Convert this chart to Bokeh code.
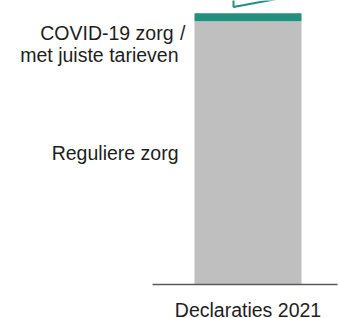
from bokeh.plotting import figure
from bokeh.models import Range1d
from bokeh.core.properties import value
from bokeh.embed import file_html
from bokeh.resources import INLINE

# Data (share of declarations, %)
category = "Declaraties 2021"
regular = [97.05]   # Reguliere zorg
covid = [2.95]      # COVID-19 zorg / met juiste tarieven
label_regular = "Reguliere zorg"
label_covid_1 = "COVID-19 zorg"
label_covid_2 = "met juiste tarieven"

TEAL = "#22907c"
GRAY = "#bfbfbf"
TXT = "#1e1e1e"
FONT = value("Liberation Sans")
FS = "19.5px"

W, H = 338, 318
px = 100 / 271.3          # data units per pixel (vertical)
ux = 1 / 107.0            # data units per pixel (horizontal)
bar_w = 1.0

p = figure(width=W, height=H, output_backend="svg", toolbar_location=None,
           x_range=Range1d(-247.5 * ux, (W - 247.5) * ux),
           y_range=Range1d(-(H - 284) * px, 284 * px),
           min_border=0, outline_line_color=None)
p.styles = {"position": "absolute", "left": "0px", "top": "0px"}
p.axis.visible = False
p.grid.visible = False
p.background_fill_color = "white"
p.border_fill_color = "white"

total = regular[0] + covid[0]
p.vbar(x=[0], bottom=[0], top=regular, width=bar_w, color=GRAY, line_color=None)
p.vbar(x=[0], bottom=regular, top=[total], width=bar_w, color=TEAL, line_color=None)

# baseline
p.segment(x0=[-0.5 - 42 * ux], y0=[0], x1=[0.5 + 36 * ux], y1=[0],
          line_color="#5a5a5a", line_width=1.6)

# partial callout shape above
p.patch(x=[-14.5 * ux, -14.5 * ux, 60 * ux], y=[total + 20 * px, total + 6.2 * px, total + 20 * px],
        fill_color=None, line_color=TEAL, line_width=2)

lx = -0.5 - 16 * ux
p.text(x=[-0.5 - 21 * ux], y=[total], text=[label_covid_1], text_align="right",
       text_baseline="alphabetic", y_offset=20, text_font=FONT, text_font_size=FS, text_color=TXT)
p.text(x=[-0.5 - 9 * ux], y=[total], text=["/"], text_align="right",
       text_baseline="alphabetic", y_offset=20, text_font=FONT, text_font_size=FS, text_color=TXT)
p.text(x=[lx], y=[total], text=[label_covid_2], text_align="right",
       text_baseline="alphabetic", y_offset=42, text_font=FONT, text_font_size=FS, text_color=TXT)
p.text(x=[lx], y=[regular[0] / 2], text=[label_regular], text_align="right",
       text_baseline="middle", text_font=FONT, text_font_size=FS, text_color=TXT)
p.text(x=[0], y=[0], text=[category], text_align="center",
       text_baseline="alphabetic", y_offset=25, text_font=FONT, text_font_size=FS, text_color=TXT)

open("out.html", "w").write(file_html(p, INLINE))
